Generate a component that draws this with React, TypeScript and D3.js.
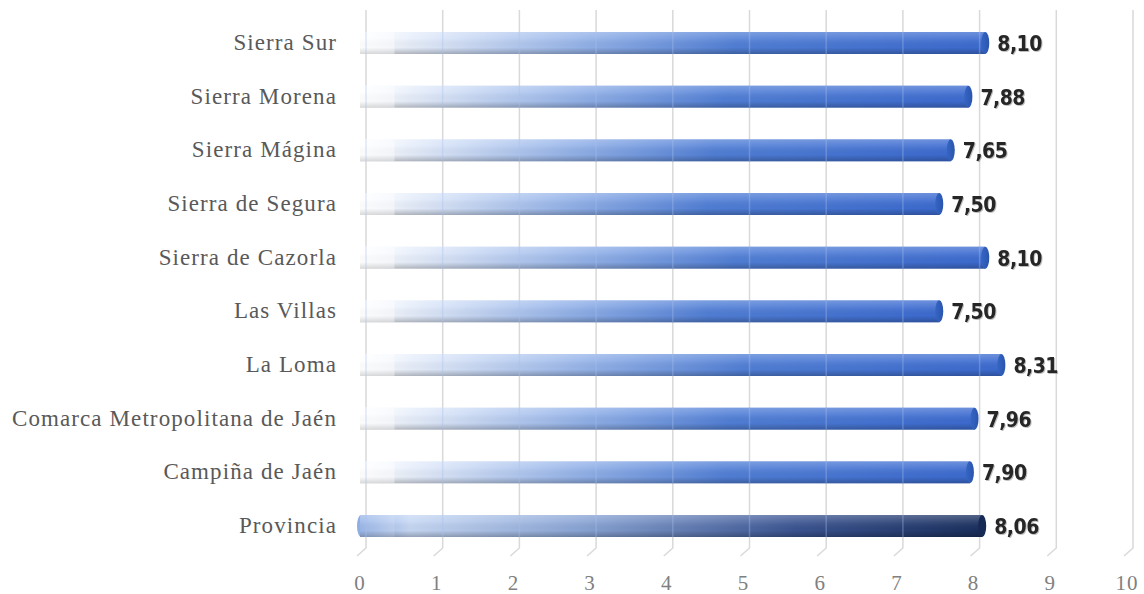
import * as d3 from 'd3';

const CATEGORIES = [
  'Sierra Sur',
  'Sierra Morena',
  'Sierra Mágina',
  'Sierra de Segura',
  'Sierra de Cazorla',
  'Las Villas',
  'La Loma',
  'Comarca Metropolitana de Jaén',
  'Campiña de Jaén',
  'Provincia',
];
const VALUES = [8.1, 7.88, 7.65, 7.5, 8.1, 7.5, 8.31, 7.96, 7.9, 8.06];
const TICKS = [0, 1, 2, 3, 4, 5, 6, 7, 8, 9, 10];

const W = 1144, H = 594;
const BAR_H = 22;
const fmt = (v: number) => v.toFixed(2).replace('.', ',');

export default function App() {
  const x = d3.scaleLinear().domain([0, 10]).range([360, 1127]);
  const y = d3.scalePoint<string>().domain(CATEGORIES).range([43, 526]);
  const gridTop = 10, gridBot = 548;

  return (
    <svg width={W} height={H} style={{ position: 'absolute', left: 0, top: 0, background: '#fff' }}>
      <defs>
        <linearGradient id="gBlue" x1="0" x2="1" y1="0" y2="0">
          <stop offset="0" stopColor="#ffffff" stopOpacity="0.9" />
          <stop offset="0.08" stopColor="#e8effb" />
          <stop offset="0.35" stopColor="#96b4e9" />
          <stop offset="0.6" stopColor="#517fd6" />
          <stop offset="1" stopColor="#3c6bd0" />
        </linearGradient>
        <linearGradient id="gProv" x1="0" x2="1" y1="0" y2="0">
          <stop offset="0" stopColor="#8eaee6" />
          <stop offset="0.08" stopColor="#c7d8f4" />
          <stop offset="0.35" stopColor="#8ba6d6" />
          <stop offset="0.7" stopColor="#3b5592" />
          <stop offset="1" stopColor="#1a2f5e" />
        </linearGradient>
        <linearGradient id="gShade" x1="0" x2="0" y1="0" y2="1">
          <stop offset="0" stopColor="#ffffff" stopOpacity="0.25" />
          <stop offset="0.3" stopColor="#ffffff" stopOpacity="0.1" />
          <stop offset="0.7" stopColor="#000000" stopOpacity="0.02" />
          <stop offset="1" stopColor="#000000" stopOpacity="0.25" />
        </linearGradient>
        <linearGradient id="gCap" x1="0" x2="1" y1="0" y2="0">
          <stop offset="0" stopColor="#3565c4" />
          <stop offset="1" stopColor="#2a55ad" />
        </linearGradient>
        <filter id="sh" x="-10%" y="-10%" width="130%" height="140%">
          <feDropShadow dx="1" dy="1" stdDeviation="0.6" floodColor="#000" floodOpacity="0.25" />
        </filter>
      </defs>

      {TICKS.map(t => (
        <g key={t}>
          <path
            d={`M${x(t) + 6},${gridTop} V${gridBot} L${x(t) - 3},${gridBot + 8}`}
            fill="none" stroke="#d9d9d9" strokeWidth={1.5}
          />
          <text x={x(t)} y={590} textAnchor="middle" fontFamily="'Liberation Serif', serif"
            fontSize={21} letterSpacing={1} fill="#808080">{t}</text>
        </g>
      ))}

      {CATEGORIES.map((c, i) => {
        const v = VALUES[i];
        const cy = y(c)!;
        const prov = c === 'Provincia';
        const x0 = x(0), x1 = x(v) + 4;
        const top = cy - BAR_H / 2;
        return (
          <g key={c}>
            <text x={337} y={cy + 7} textAnchor="end" fontFamily="'Liberation Serif', serif"
              fontSize={23} letterSpacing={1.1} fill="#595959">{c}</text>
            {prov && <ellipse cx={x0 + 1} cy={cy} rx={4} ry={BAR_H / 2} fill="#8eaee6" />}
            <rect x={x0} y={top} width={x1 - x0} height={BAR_H} fill={`url(#${prov ? 'gProv' : 'gBlue'})`} />
            <rect x={x0} y={top} width={x1 - x0} height={BAR_H} fill="url(#gShade)" />
            <rect x={x0} y={top} width={x(0.45) - x0} height={BAR_H} fill="#ffffff" opacity={prov ? 0.12 : 0.4} />
            {TICKS.filter(t => x(t) + 6 < x1 - 4).map(t => (
              <line key={t} x1={x(t) + 6} x2={x(t) + 6} y1={top} y2={top + BAR_H}
                stroke="#a8c0ec" strokeWidth={1.5} opacity={0.35} />
            ))}
            <ellipse cx={x1} cy={cy} rx={4} ry={BAR_H / 2} fill={prov ? '#172a55' : 'url(#gCap)'} />
            <text x={x1 + 12} y={cy + 8} fontFamily="'Liberation Sans Narrow', 'DejaVu Sans Condensed', sans-serif"
              fontWeight="bold" fontSize={21} fill="#262626" filter="url(#sh)" letterSpacing={-0.5}>{fmt(v)}</text>
          </g>
        );
      })}
    </svg>
  );
}
